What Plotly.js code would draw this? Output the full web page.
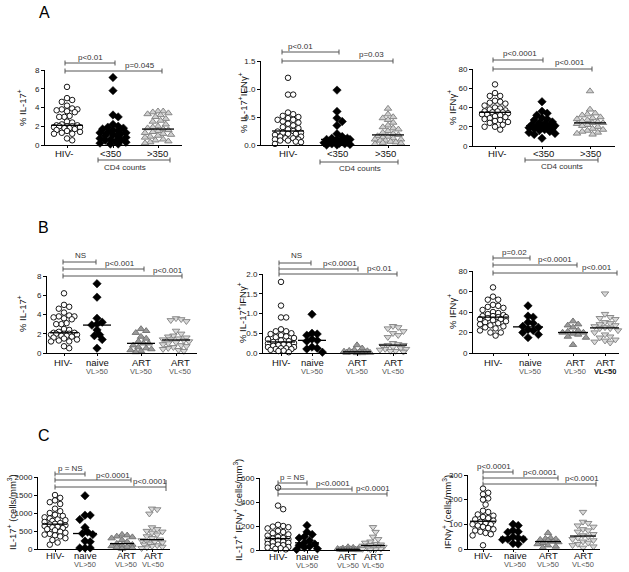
<!DOCTYPE html>
<html><head><meta charset="utf-8">
<script src="https://cdn.plot.ly/plotly-3.0.1.min.js"></script>
<style>html,body{margin:0;padding:0;background:#fff}#chart{width:629px;height:572px}</style>
</head><body><div id="chart"></div>
<script>
// ---------------- DATA ----------------
// Panel A / B : % IL-17+
const il17_hiv   = [6.2,5.0,4.8,4.6,4.2,3.9,3.8,3.8,3.7,3.6,3.5,3.1,3.0,3.0,2.5,2.4,2.2,2.1,2.1,2.0,2.0,2.0,1.9,1.9,1.8,1.8,1.7,1.6,1.5,1.4,1.3,1.2,1.2,0.7,0.5];
const il17_cd4lo = [7.2,5.8,3.2,3.0,2.2,2.0,1.9,1.8,1.7,1.6,1.5,1.4,1.3,1.3,1.2,1.1,1.0,0.9,0.8,0.7,0.6,0.5,0.5,0.4,0.3,0.2,0.1,0.1];
const il17_cd4hi = [3.6,3.6,3.5,3.4,3.3,3.2,3.0,2.8,2.6,2.5,2.2,2.0,1.9,1.8,1.7,1.6,1.5,1.4,1.3,1.2,1.1,1.0,0.9,0.8,0.6,0.5,0.4,0.3,0.2];
// % IL-17+IFNg+
const dp_hiv   = [1.2,0.9,0.9,0.58,0.55,0.52,0.5,0.48,0.45,0.45,0.42,0.4,0.38,0.35,0.32,0.3,0.28,0.25,0.24,0.22,0.22,0.2,0.2,0.18,0.15,0.15,0.12,0.12,0.1,0.1,0.08,0.08,0.06,0.05,0.02];
const dp_cd4lo = [0.98,0.6,0.48,0.42,0.35,0.2,0.15,0.12,0.12,0.1,0.1,0.1,0.1,0.08,0.06,0.05,0.05,0.04,0.03,0.02,0.02,0.01,0,0];
const dp_cd4hi = [0.65,0.55,0.5,0.48,0.45,0.4,0.35,0.32,0.3,0.28,0.25,0.22,0.2,0.18,0.16,0.15,0.14,0.12,0.1,0.1,0.08,0.08,0.06,0.05,0.04,0.03,0.02];
// % IFNg+
const ifn_hiv   = [64,55,52,52,47,46,45,44,42,40,39,38,37,36,36,35,35,34,33,33,32,31,30,29,28,27,26,25,24,22,20,20,17];
const ifn_cd4lo = [46,36,34,32,29,28,27,25,24,23,22,22,21,21,20,20,19,18,18,17,16,15,14,13,12,8];
const ifn_cd4hi = [57,38,34,33,32,30,29,28,27,26,25,24,24,23,22,21,20,18,17,16,15,14,13,12];
// Panel B
const il17_naive = [7.2,5.8,3.6,3.2,3.0,2.9,2.4,1.9,1.8,1.4,0.5];
const il17_artHi = [2.5,2.3,2.1,1.7,1.5,1.2,1.0,1.0,0.8,0.6,0.5,0.4,0.3,0.2,0.1];
const il17_artLo = [3.6,3.5,3.4,3.3,2.3,2.0,1.8,1.7,1.6,1.5,1.4,1.4,1.3,1.2,1.1,1.0,0.9,0.8,0.7,0.6,0.5,0.4,0.3,0.2];
const dpB_hiv    = [1.8,1.2,0.9,0.9,0.6,0.55,0.55,0.5,0.48,0.45,0.42,0.4,0.38,0.35,0.32,0.3,0.28,0.25,0.24,0.22,0.2,0.2,0.18,0.15,0.15,0.12,0.12,0.1,0.1,0.08,0.06,0.05,0.02];
const dp_naive   = [0.98,0.5,0.48,0.45,0.35,0.32,0.3,0.15,0.12,0.1,0.02];
const dp_artHi   = [0.2,0.12,0.08,0.06,0.05,0.04,0.03,0.02,0.02,0.01,0.01,0,0];
const dp_artLo   = [0.68,0.65,0.62,0.55,0.5,0.45,0.4,0.25,0.22,0.2,0.2,0.18,0.15,0.12,0.1,0.1,0.08,0.05,0.05,0.03];
const ifn_naive  = [46,36,35,30,29,26,25,23,22,20,18,15];
const ifn_artHi  = [31,28,27,25,22,21,20,20,19,18,16,15,8];
const ifn_artLo  = [58,38,35,34,33,30,29,28,27,26,25,24,24,22,20,18,16,15,13,12,11,10];
// Panel C (cells/mm3)
const c17_hiv   = [1500,1420,1350,1300,1250,1120,1050,1000,950,920,880,850,820,800,780,750,720,700,680,660,640,620,600,580,550,520,480,450,420,400,380,350,300,250,180,120];
const c17_naive = [1480,940,940,820,600,470,430,400,220,200,30,30,30];
const c17_artHi = [400,380,350,330,300,250,200,150,120,100,80,60,50,30,10];
const c17_artLo = [1120,1100,980,600,550,500,480,450,400,350,300,260,240,220,200,180,150,120,100,80,60,40,20];
const cdp_hiv   = [520,370,340,210,200,195,190,180,160,150,140,130,120,110,100,95,90,85,80,70,65,60,50,45,40,30,25,20,15,10,5];
const cdp_naive = [205,150,130,110,100,80,60,50,40,30,20,10,5];
const cdp_artHi = [25,20,15,12,10,8,6,5,4,3,2,1,0];
const cdp_artLo = [190,150,110,90,70,60,50,45,40,35,30,25,20,15,10,8,5,3];
const cifn_hiv   = [245,228,222,205,200,180,155,150,140,135,130,125,120,115,110,105,100,100,95,90,85,80,75,70,65,60,55,15];
const cifn_naive = [100,95,75,70,68,50,45,40,40,38,22,20];
const cifn_artHi = [65,45,42,40,38,35,30,28,25,20,15,10,5];
const cifn_artLo = [150,110,105,95,90,80,75,70,60,55,50,45,40,35,30,25,20,15,10,5];

const catsA = ['HIV-','<350','>350'];
const catsB = [['HIV-',''],['naive','VL>50'],['ART','VL>50'],['ART','VL<50']];

// ---------------- STYLES / LAYOUT ----------------
const W=629,H=572;
const FONT='Liberation Sans, Arial, sans-serif';
const ST = {
  hiv:   {symbol:'circle', size:5.5, color:'#ffffff', line:{color:'#000',width:0.9}},
  dia:   {symbol:'diamond', size:6.5, color:'#000', line:{color:'#000',width:0.5}},
  triL:  {symbol:'triangle-up', size:6.5, color:'#cfcfcf', line:{color:'#7d7d7d',width:0.9}},
  triD:  {symbol:'triangle-up', size:6.5, color:'#9a9a9a', line:{color:'#6e6e6e',width:0.9}},
  tdn:   {symbol:'triangle-down', size:6.5, color:'#d9d9d9', line:{color:'#808080',width:0.9}}
};

const panels = [
 {L:45,R:182,T:70,B:145,ymax:8,dtick:2,fmt:'',cap:15,
  groups:[[il17_hiv,67,ST.hiv],[il17_cd4lo,113,ST.dia],[il17_cd4hi,158,ST.triL]],
  labs:catsA, labx:[64,110,157], laby:153,
  ytitle:'% IL-17<sup>+</sup>', tx:22, ty:108,
  br:[[65,115,63,'p<0.01',90,57],[65,162,71,'p=0.045',140,65]], cd4:[98,170,160,125,167]},
 {L:261,R:410,T:61,B:145,ymax:1.5,dtick:0.5,fmt:'.1f',cap:15,
  groups:[[dp_hiv,288,ST.hiv],[dp_cd4lo,337,ST.dia],[dp_cd4hi,388,ST.triL]],
  labs:catsA, labx:[288,337,385], laby:153,
  ytitle:'% IL-17<sup>+</sup>IFNγ<sup>+</sup>', tx:243, ty:103,
  br:[[282,339,52,'p<0.01',300,46],[282,393,61,'p=0.03',371,55]], cd4:[320,398,162,360,168]},
 {L:473,R:615,T:69,B:146,ymax:80,dtick:20,fmt:'',cap:15,
  groups:[[ifn_hiv,495,ST.hiv],[ifn_cd4lo,542,ST.dia],[ifn_cd4hi,590,ST.triL]],
  labs:catsA, labx:[497,543,590], laby:153,
  ytitle:'% IFNγ<sup>+</sup>', tx:452, ty:108,
  br:[[493,543,60,'p<0.0001',520,53],[493,592,69,'p<0.001',570,63]], cd4:[525,598,160,562,166]},
 {L:47,R:197,T:276,B:353,ymax:8,dtick:2,fmt:'',cap:13,
  groups:[[il17_hiv,64,ST.hiv],[il17_naive,97,ST.dia],[il17_artHi,141,ST.triD],[il17_artLo,176,ST.tdn]],
  labs:catsB, labx:[63,97,141,180], laby:362, laby2:371,
  ytitle:'% IL-17<sup>+</sup>', tx:22, ty:314,
  br:[[63,96,262,'NS',80,256],[63,144,269,'p<0.001',120,263],[63,182,276,'p<0.001',168,270]]},
 {L:263,R:407,T:274,B:353,ymax:2,dtick:0.5,fmt:'.1f',cap:13,
  groups:[[dpB_hiv,281,ST.hiv],[dp_naive,312,ST.dia],[dp_artHi,357,ST.triD],[dp_artLo,393,ST.tdn]],
  labs:catsB, labx:[281,312,357,393], laby:362, laby2:371,
  ytitle:'% IL-17<sup>+</sup>IFNγ<sup>+</sup>', tx:242, ty:313,
  br:[[279,311,263,'NS',296,256],[279,358,269,'p<0.0001',340,263],[279,397,274,'p<0.01',379,268]]},
 {L:473,R:619,T:271,B:353,ymax:80,dtick:20,fmt:'',cap:14,
  groups:[[ifn_hiv,493,ST.hiv],[ifn_naive,528,ST.dia],[ifn_artHi,573,ST.triD],[ifn_artLo,605,ST.tdn]],
  labs:catsB, labx:[493,530,575,605], laby:362, laby2:371, boldLast:true,
  ytitle:'% IFNγ<sup>+</sup>', tx:452, ty:312,
  br:[[493,530,258,'p=0.02',514,252],[493,577,265,'p<0.0001',555,259],[493,617,273,'p<0.001',597,267]]},
 {L:38,R:170,T:477,B:549,ymax:2000,dtick:500,fmt:'',cap:11,
  groups:[[c17_hiv,55,ST.hiv],[c17_naive,85,ST.dia],[c17_artHi,122,ST.triD],[c17_artLo,152,ST.tdn]],
  labs:catsB, labx:[55,85,126,153], laby:555, laby2:564,
  ytitle:'IL-17<sup>+</sup> (cells/mm<sup>3</sup>)', tx:12, ty:512,
  br:[[55,85,474,'p = NS',70,468],[55,131,480,'p<0.0001',113,475],[55,166,487,'p<0.0001',150,481,true]]},
 {L:260,R:390,T:478,B:550,ymax:600,dtick:200,fmt:'',cap:11,
  groups:[[cdp_hiv,278,ST.hiv],[cdp_naive,307,ST.dia],[cdp_artHi,348,ST.triD],[cdp_artLo,373,ST.tdn]],
  labs:catsB, labx:[278,307,348,373], laby:556, laby2:565,
  ytitle:'IL-17<sup>+</sup> IFNγ<sup>+</sup> (cells/mm<sup>3</sup>)', tx:238, ty:510,
  br:[[278,307,483,'p = NS',292,477],[278,352,489,'p<0.0001',333,483],[278,387,494,'p<0.0001',373,488]]},
 {L:468,R:600,T:475,B:549,ymax:300,dtick:100,fmt:'',cap:12,
  groups:[[cifn_hiv,483,ST.hiv],[cifn_naive,513,ST.dia],[cifn_artHi,548,ST.triD],[cifn_artLo,583,ST.tdn]],
  labs:catsB, labx:[483,515,548,583], laby:555, laby2:564,
  ytitle:'IFNγ<sup>+</sup> (cells/mm<sup>3</sup>)', tx:447, ty:512,
  br:[[483,513,472,'p<0.0001',494,466],[483,558,478,'p<0.0001',540,472],[483,596,484,'p<0.0001',582,478]]}
];

function median(a){const s=[...a].sort((x,y)=>x-y);const n=s.length;return n%2?s[(n-1)/2]:(s[n/2-1]+s[n/2])/2;}
// deterministic beeswarm offsets in pixels, limited to +-cap
function swarm(vals, ypx, d, cap){
  const idx = vals.map((v,i)=>i).sort((a,b)=>vals[b]-vals[a]);
  const placed=[]; const off=new Array(vals.length).fill(0);
  const step=d*0.5, cands=[0];
  for(let k=1;k*step<=cap;k++){cands.push(k*step);cands.push(-k*step);}
  idx.forEach(i=>{
    const y=ypx(vals[i]);
    let best=0,bestD=-1;
    for(const o of cands){
      const md=placed.length?Math.min(...placed.map(p=>Math.hypot(p[0]-o,p[1]-y))):1e9;
      if(md>=d){best=o;bestD=md;break;}
      if(md>bestD){bestD=md;best=o;}
    }
    off[i]=best;placed.push([best,y]);
  });
  return off;
}

const px=x=>x/W, py=y=>1-y/H;
const traces=[], shapes=[], annotations=[], layout={};
const LC='#555', TC='#333';
function line(x0,y0,x1,y1,c,w){shapes.push({type:'line',xref:'paper',yref:'paper',x0:px(x0),x1:px(x1),y0:py(y0),y1:py(y1),line:{color:c||LC,width:w||1}});}
function text(t,x,y,size,opt){annotations.push(Object.assign({text:t,x:px(x),y:py(y),xref:'paper',yref:'paper',showarrow:false,xanchor:'center',yanchor:'middle',font:{family:FONT,size:size,color:TC}},opt||{}));}

panels.forEach((p,k)=>{
  const n=k===0?'':String(k+1);
  const ypx=v=>p.B - v/p.ymax*(p.B-p.T);
  layout['xaxis'+n]={domain:[px(p.L),px(p.R)],range:[p.L,p.R],anchor:'y'+n,showline:true,linecolor:'#000',linewidth:1,
     showgrid:false,zeroline:false,ticks:'outside',ticklen:2,tickcolor:'#000',tickvals:p.groups.map(g=>g[1]),showticklabels:false,fixedrange:true};
  layout['yaxis'+n]={domain:[py(p.B),py(p.T)],range:[0,p.ymax],anchor:'x'+n,showline:true,linecolor:'#000',linewidth:1,
     showgrid:false,zeroline:false,ticks:'outside',ticklen:3,tickcolor:'#000',dtick:p.dtick,tick0:0,tickformat:p.fmt,
     tickfont:{family:FONT,size:8,color:'#222'},fixedrange:true};
  p.groups.forEach(g=>{
    const [vals,cx,st]=g;
    const off=swarm(vals,ypx,5.2,p.cap);
    traces.push({type:'scatter',mode:'markers',xaxis:'x'+n,yaxis:'y'+n,x:vals.map((v,i)=>cx+off[i]),y:vals,
      marker:st,cliponaxis:false,hoverinfo:'skip',showlegend:false});
    const m=median(vals);
    traces.push({type:'scatter',mode:'lines',xaxis:'x'+n,yaxis:'y'+n,x:[cx-p.cap-1,cx+p.cap+1],y:[m,m],
      line:{color:'#000',width:1.3},cliponaxis:false,hoverinfo:'skip',showlegend:false});
  });
  // category labels
  p.labs.forEach((lb,i)=>{
    if(Array.isArray(lb)){
      text(lb[0],p.labx[i],p.laby,9.5,{font:{family:FONT,size:9.5,color:'#111'}});
      if(lb[1]){
        const bold = p.boldLast && i===p.labs.length-1;
        text(bold?'<b>'+lb[1]+'</b>':lb[1],p.labx[i],p.laby2,7.5,{font:{family:FONT,size:7.5,color:bold?'#111':'#555'}});
      }
    } else text(lb,p.labx[i],p.laby,9.5,{font:{family:FONT,size:9.5,color:'#111'}});
  });
  // y title
  text(p.ytitle,p.tx,p.ty,9.5,{textangle:-90,font:{family:FONT,size:9.5,color:'#111'}});
  // significance brackets
  p.br.forEach(b=>{
    const [x0,x1,y,t,tx,ty,tall]=b;
    line(x0,y,x1,y); line(x0,y-2.5,x0,y+2.5); line(x1,tall?y-7:y-2.5,x1,tall?y+4:y+2.5);
    text(t,tx,ty,8,{font:{family:FONT,size:8,color:TC}});
  });
  if(p.cd4){
    const [x0,x1,y,tx,ty]=p.cd4;
    line(x0,y,x1,y); line(x0,y-2.5,x0,y+2.5); line(x1,y-2.5,x1,y+2.5);
    text('CD4 counts',tx,ty,8,{font:{family:FONT,size:8,color:TC}});
  }
});
// panel letters
text('A',44,13,16,{font:{family:FONT,size:16,color:'#000'}});
text('B',43,228,16,{font:{family:FONT,size:16,color:'#000'}});
text('C',44,436,16,{font:{family:FONT,size:16,color:'#000'}});

Object.assign(layout,{width:W,height:H,margin:{l:0,r:0,t:0,b:0},paper_bgcolor:'#fff',plot_bgcolor:'rgba(0,0,0,0)',
  showlegend:false,shapes:shapes,annotations:annotations,font:{family:FONT}});
Plotly.newPlot('chart',traces,layout,{staticPlot:true,displayModeBar:false});
</script></body></html>
